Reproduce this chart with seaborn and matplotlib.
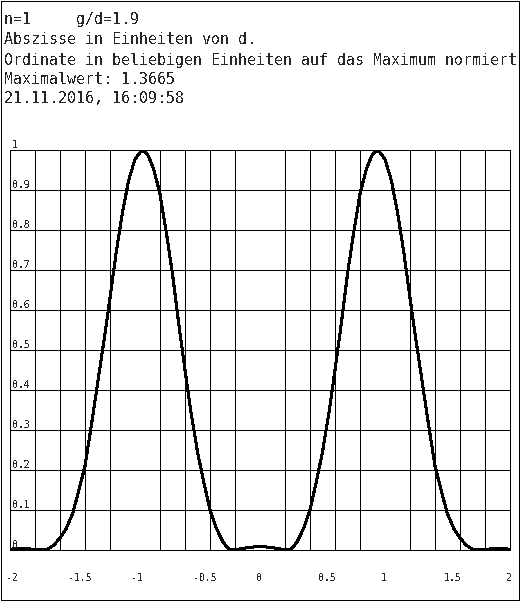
import matplotlib
matplotlib.use('Agg')
import matplotlib.pyplot as plt
import matplotlib.transforms as mtransforms
from matplotlib.patches import Rectangle
import numpy as np
import pandas as pd
import seaborn as sns

########################################################
        # DATA
########################################################

x_pos = [-2.0, -1.95, -1.9, -1.85, -1.8, -1.75, -1.7, -1.65, -1.6, -1.55,
         -1.5, -1.45, -1.4, -1.35, -1.3, -1.25, -1.2, -1.15, -1.1, -1.05,
         -1.0, -0.945, -0.9, -0.85, -0.8, -0.75, -0.7, -0.65, -0.6, -0.55,
         -0.5, -0.45, -0.4, -0.35, -0.3, -0.25, -0.225, -0.2, -0.15, -0.1,
         -0.05, 0.0,
         0.05, 0.1, 0.15, 0.2, 0.225, 0.25, 0.3, 0.35, 0.4, 0.45,
         0.5, 0.55, 0.6, 0.65, 0.7, 0.75, 0.8, 0.85, 0.9, 0.945,
         1.0, 1.05, 1.1, 1.15, 1.2, 1.25, 1.3, 1.35, 1.4, 1.45,
         1.5, 1.55, 1.6, 1.65, 1.7, 1.75, 1.8, 1.85, 1.9, 1.95, 2.0]

intensity = [0.0022, 0.0030, 0.0032, 0.0028, 0.0015, 0.0005, 0.002, 0.012, 0.030, 0.054,
             0.090, 0.148, 0.210, 0.310, 0.415, 0.520, 0.630, 0.745, 0.845, 0.925,
             0.977, 1.000, 0.990, 0.952, 0.890, 0.795, 0.690, 0.565, 0.450, 0.340,
             0.245, 0.170, 0.100, 0.055, 0.022, 0.002, 0.0, 0.001, 0.003, 0.006,
             0.0075, 0.008,
             0.0075, 0.006, 0.003, 0.001, 0.0, 0.002, 0.022, 0.055, 0.100, 0.170,
             0.245, 0.340, 0.450, 0.565, 0.690, 0.795, 0.890, 0.952, 0.990, 1.000,
             0.977, 0.925, 0.845, 0.745, 0.630, 0.520, 0.415, 0.310, 0.210, 0.148,
             0.090, 0.054, 0.030, 0.012, 0.002, 0.0005, 0.0015, 0.0028, 0.0032, 0.0030, 0.0022]

x_ticks = [-2, -1.5, -1, -0.5, 0, 0.5, 1, 1.5, 2]
x_labels = ['-2', '-1.5', '-1', '-0.5', '0', '0.5', '1', '1.5', '2']
y_ticks = [0, 0.1, 0.2, 0.3, 0.4, 0.5, 0.6, 0.7, 0.8, 0.9, 1]
y_labels = ['0', '0.1', '0.2', '0.3', '0.4', '0.5', '0.6', '0.7', '0.8', '0.9', '1']
x_grid = np.round(np.arange(-2, 2.001, 0.2), 1)

header = ['n=1     g/d=1.9',
          'Abszisse in Einheiten von d.',
          'Ordinate in beliebigen Einheiten auf das Maximum normiert',
          'Maximalwert: 1.3665',
          '21.11.2016, 16:09:58']

df = pd.DataFrame({'x': x_pos, 'I': intensity})

########################################################
        # STYLE
########################################################

sns.set_style('white')
plt.rcParams['font.family'] = ['DejaVu Sans Mono']
plt.rcParams['axes.unicode_minus'] = False
plt.rcParams['text.antialiased'] = False

W, H = 521, 601
fig = plt.figure(figsize=(W / 100, H / 100), dpi=100)
fig.patch.set_facecolor('white')

# axes: x from px 10 to 510, y from px 150 to 550
ax = fig.add_axes([10 / W, (H - 550) / H, 500 / W, 400 / H])

sns.lineplot(data=df, x='x', y='I', ax=ax, color='black', lw=1.44,
             antialiased=False, estimator=None, sort=False)

ax.set_xlim(-2, 2)
ax.set_ylim(0, 1)
ax.set_xlabel('')
ax.set_ylabel('')

#grid: vertical every 0.2, horizontal every 0.1
ax.set_xticks(x_grid, minor=True)
ax.set_xticks(x_ticks)
ax.set_yticks(y_ticks)
ax.set_xticklabels([])
ax.set_yticklabels([])
ax.tick_params(which='both', length=0)
ax.grid(which='minor', axis='x', color='black', lw=0.72, antialiased=False)
ax.grid(which='major', axis='x', visible=False)
ax.grid(which='major', axis='y', color='black', lw=0.72, antialiased=False)

for sp in ax.spines.values():
    sp.set_color('black')
    sp.set_linewidth(0.72)
    sp.set_antialiased(False)

#tick labels
xoff = mtransforms.ScaledTranslation(-4 / 100, -28 / 100, fig.dpi_scale_trans)
for xv, lbl in zip(x_ticks, x_labels):
    ax.text(xv, 0, lbl, transform=ax.get_xaxis_transform() + xoff,
            ha='left', va='center', fontsize=7, clip_on=False)

yoff = mtransforms.ScaledTranslation(2 / 100, 1.5 / 100, fig.dpi_scale_trans)
for yv, lbl in zip(y_ticks, y_labels):
    ax.text(0, yv, lbl, transform=ax.get_yaxis_transform() + yoff,
            ha='left', va='baseline', fontsize=7, clip_on=False)

#header lines
baselines = [24, 44.5, 64.5, 84, 103]
for line, b in zip(header, baselines):
    fig.text(4 / W, 1 - b / H, line, ha='left', va='baseline', fontsize=10.8)

#frame round the whole picture
fig.patches.append(Rectangle((0.5 / W, 1.5 / H), 518 / W, 599 / H,
                             transform=fig.transFigure, fill=False,
                             edgecolor='black', lw=0.72, antialiased=False))

fig.savefig('out.png', dpi=100)
